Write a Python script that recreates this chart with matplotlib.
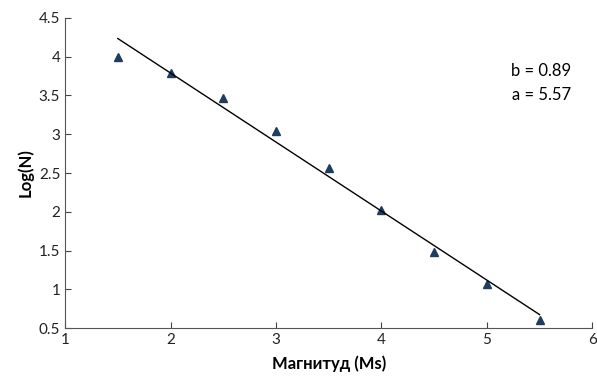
import numpy as np
import matplotlib.pyplot as plt

plt.rcParams['font.family'] = ['Lato', 'DejaVu Sans']

magnitude = [1.5, 2.0, 2.5, 3.0, 3.5, 4.0, 4.5, 5.0, 5.5]
log_n = [4.0, 3.79, 3.47, 3.04, 2.57, 2.02, 1.48, 1.07, 0.6]
b = 0.89
a = 5.57

fig = plt.figure(figsize=(5.97, 3.82), dpi=100)
ax = fig.add_axes([0.109, 0.141, 0.883, 0.812])

ax.plot(magnitude, log_n, linestyle='none', marker='^', markersize=6,
        color='#1f3d5e')
fit_x = np.array([magnitude[0], magnitude[-1]])
ax.plot(fit_x, a - b * fit_x, color='black', linewidth=1)

ax.set_xlim(1, 6)
ax.set_ylim(0.5, 4.5)
ax.set_xticks([1, 2, 3, 4, 5, 6])
ax.set_yticks([0.5, 1, 1.5, 2, 2.5, 3, 3.5, 4, 4.5])
ax.set_yticklabels(['0.5', '1', '1.5', '2', '2.5', '3', '3.5', '4', '4.5'])
ax.tick_params(direction='in', length=4, labelsize=11, colors='#444444',
               labelcolor='#222222')
ax.spines['top'].set_visible(False)
ax.spines['right'].set_visible(False)
for s in ['left', 'bottom']:
    ax.spines[s].set_color('#555555')

ax.set_xlabel('Магнитуд (Ms)', fontsize=12, fontweight='bold', labelpad=6)
ax.set_ylabel('Log(N)', fontsize=12, fontweight='bold', labelpad=4)

ax.text(0.96, 0.83, 'b = %.2f' % b, transform=ax.transAxes, ha='right',
        va='center', fontsize=12)
ax.text(0.96, 0.75, 'a = %.2f' % a, transform=ax.transAxes, ha='right',
        va='center', fontsize=12)

fig.savefig('out.png', dpi=100)
